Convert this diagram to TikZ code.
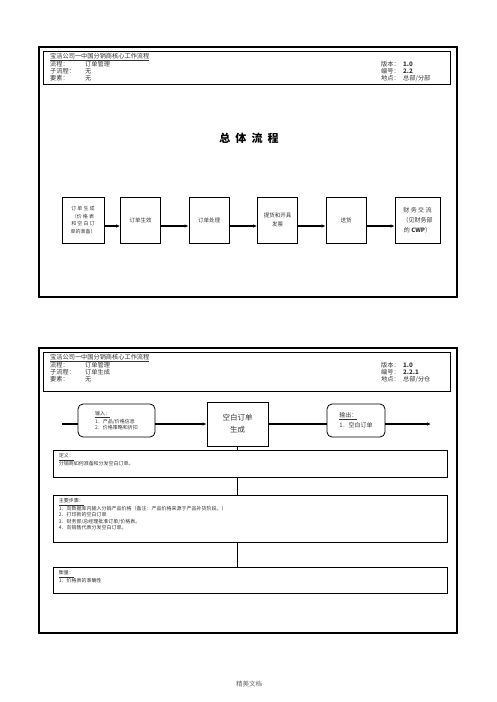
\documentclass[tikz,border=0pt]{standalone}
\usepackage{fontspec}
\setmainfont{Noto Sans CJK SC}
\usetikzlibrary{calc}
\usetikzlibrary{positioning}
\usetikzlibrary{arrows.meta}

\begin{document}
\begin{tikzpicture}[
x=1pt, y=-1pt,
frame/.style={draw, line width=1.1pt},
hdrbox/.style={draw, line width=0.9pt},
hdrtext/.style={anchor=west, inner sep=0pt, text=black!80, font=\fontsize{6.2}{7}\selectfont},
flowbox/.style={draw, line width=0.8pt, minimum width=40, minimum height=46, inner sep=1pt, align=center, text=black!80, font=\fontsize{5.5}{9}\selectfont},
iobox/.style={draw, rounded corners=5pt, line width=0.8pt, minimum height=33, inner sep=3pt, align=left, text=black!80},
txtbox/.style={draw, line width=0.9pt, minimum width=394, inner sep=0pt},
boxtext/.style={anchor=north west, inner sep=0pt, align=left, text=black!80, font=\fontsize{5}{6.2}\selectfont},
link/.style={line width=1.1pt},
arr/.style={line width=1.1pt, -{Latex[length=4pt,width=3.5pt]}}
]
\useasboundingbox (0,0) rectangle (496,702);

% page 1 frame and header
\draw[frame] (39,47) rectangle (457,297);
\draw[hdrbox] (43,51) rectangle (450,84);
\node[hdrtext] (t1) at (50,57) {\underline{宝洁公司一中国分销商核心工作流程}};
\node[hdrtext] (p1) at (50,64) {流程：};
\node[hdrtext] (p1v) at (85,64) {订单管理};
\node[hdrtext] (s1) at (50,71) {子流程：};
\node[hdrtext] (s1v) at (85,71) {无};
\node[hdrtext] (e1) at (50,78) {要素：};
\node[hdrtext] (e1v) at (85,78) {无};
\node[hdrtext] (v1) at (381,64) {版本：};
\node[hdrtext] (v1v) at (403,64) {\textbf{1.0}};
\node[hdrtext] (n1) at (381,71) {编号：};
\node[hdrtext] (n1v) at (403,71) {\textbf{2.2}};
\node[hdrtext] (l1) at (381,78) {地点：};
\node[hdrtext] (l1v) at (403,78) {总部/分部};

% title
\node[font=\fontsize{11}{13}\selectfont\bfseries] (title) at (249,138) {总\ \ 体\ \ 流\ \ 程};

% flow boxes
\node[flowbox, minimum width=42, font=\fontsize{5}{7.5}\selectfont] (b1) at (83,220) {订 单 生 成\\（价 格 表\\和 空 白 订\\单的准备）};
\node[flowbox] (b2) at (140.5,220) {订单生效};
\node[flowbox] (b3) at (209,220) {订单处理};
\node[flowbox] (b4) at (277.5,220) {提货和开具\\发票};
\node[flowbox] (b5) at (346,220) {送货};
\node[flowbox, minimum width=45, font=\fontsize{6}{10}\selectfont] (b6) at (417.5,220) {财\ 务\ 交\ 流\\（见财务部\\的 \textbf{CWP}）};

% arrows
\draw[arr] ([yshift=-6pt]b1.east) -- ([yshift=-6pt]b2.west);
\draw[arr] ([yshift=-6pt]b2.east) -- ([yshift=-6pt]b3.west);
\draw[arr] ([yshift=-6pt]b3.east) -- ([yshift=-6pt]b4.west);
\draw[arr] ([yshift=-6pt]b4.east) -- ([yshift=-6pt]b5.west);
\draw[arr] ([yshift=-6pt]b5.east) -- ([yshift=-6pt]b6.west);

% page 2 frame and header
\draw[frame] (39,348) rectangle (457,633);
\draw[hdrbox] (43,352) rectangle (450,391);
\node[hdrtext] (t2) at (50,358) {\underline{宝洁公司一中国分销商核心工作流程}};
\node[hdrtext] (p2) at (50,365) {流程：};
\node[hdrtext] (p2v) at (85,365) {订单管理};
\node[hdrtext] (s2) at (50,372) {子流程：};
\node[hdrtext] (s2v) at (85,372) {订单生成};
\node[hdrtext] (e2) at (50,379) {要素：};
\node[hdrtext] (e2v) at (85,379) {无};
\node[hdrtext] (v2) at (381,365) {版本：};
\node[hdrtext] (v2v) at (403,365) {\textbf{1.0}};
\node[hdrtext] (n2) at (381,372) {编号：};
\node[hdrtext] (n2v) at (403,372) {\textbf{2.2.1}};
\node[hdrtext] (l2) at (381,379) {地点：};
\node[hdrtext] (l2v) at (403,379) {总部/分仓};

% input, process, output
\node[iobox, minimum width=77, font=\fontsize{5}{6.3}\selectfont] (inp) at (116.5,420.5) {\underline{输入：}\\1．产品/价格信息\\2．价格策略和折扣};
\node[draw, line width=0.8pt, minimum width=61, minimum height=44, align=center, text=black!80, font=\fontsize{7.5}{12}\selectfont] (proc) at (237.5,424) {空白订单\\生成};
\node[iobox, minimum width=58, font=\fontsize{6}{10}\selectfont] (outp) at (356,420.5) {\underline{输出：}\\1．空白订单};
\coordinate (start) at (62,424);
\coordinate (stop) at (431,424);

\draw[link] (start) -- (start -| inp.west);
\draw[arr] (inp.east |- proc.west) -- (proc.west);
\draw[link] (proc.east) -- (proc.east -| outp.west);
\draw[arr] (outp.east |- proc.east) -- (stop);

% detail boxes
\node[txtbox, minimum height=27] (def) at (250,463.5) {};
\node[txtbox, minimum height=47] (steps) at (250,518.5) {};
\node[txtbox, minimum height=26] (meas) at (250,580) {};

\node[boxtext] (deftxt) at ([xshift=6pt,yshift=-4pt]def.north west) {\underline{定义：}\\分销商如何准备和分发空白订单。};
\node[boxtext] (stepstxt) at ([xshift=6pt,yshift=-4pt]steps.north west) {\underline{主要步骤：}\\1．向数据库内输入分销产品价格（备注：产品价格来源于产品补货阶段。）\\2．打印新的空白订单\\3．财务部/总经理批准订单/价格表。\\4．向销售代表分发空白订单。};
\node[boxtext] (meastxt) at ([xshift=6pt,yshift=-4pt]meas.north west) {\underline{衡量：}\\1．价格表的准确性};

\draw[link, line width=1.4pt] (proc.south) -- (proc.south |- def.north);
\draw[link, line width=1.4pt] (proc.south |- def.south) -- (proc.south |- steps.north);
\draw[link, line width=1.4pt] (proc.south |- steps.south) -- (proc.south |- meas.north);

% footer
\node[font=\fontsize{6.5}{8}\selectfont, text=black!60] (foot) at (249,684) {精美文档};

\end{tikzpicture}
\end{document}
